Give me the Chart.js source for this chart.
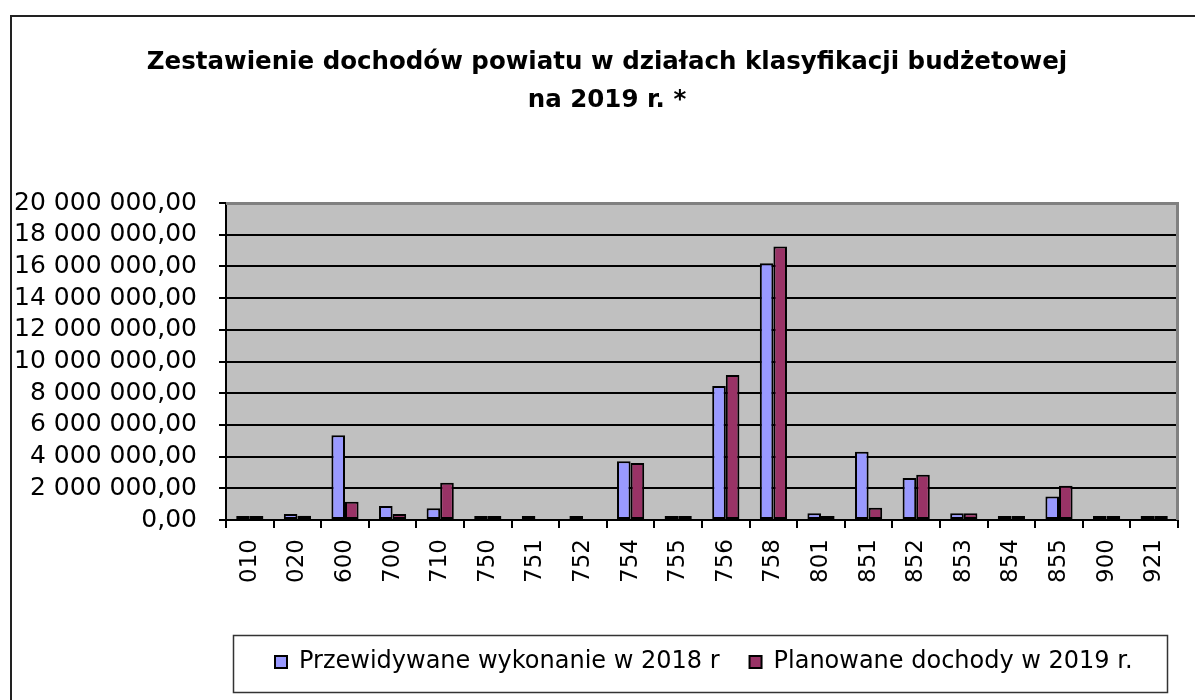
<!DOCTYPE html>
<html>
<head>
<meta charset="utf-8">
<script src="https://cdn.jsdelivr.net/npm/chart.js@4.4.0/dist/chart.umd.min.js"></script>
<style>
    html, body { margin: 0; padding: 0; background: #fff; overflow: hidden; }
    #wrap { position: relative; width: 1195px; height: 700px; overflow: hidden; }
    #frame { position: absolute; left: 10px; top: 15px; width: 1400px; height: 900px; border: 2px solid #222; }
    #chart-canvas { position: absolute; left: 0; top: 0; }
</style>
</head>
<body>
<div id="wrap">
    <div id="frame"></div>
    <canvas id="chart-canvas" width="1195" height="700"></canvas>
</div>
<script>
// Budget divisions (x axis)
const categories = ['010', '020', '600', '700', '710', '750', '751', '752', '754', '755',
                    '756', '758', '801', '851', '852', '853', '854', '855', '900', '921'];

// Series values
const forecast2018 = [30000, 380000, 5350000, 880000, 740000, 30000, 30000, 30000, 3700000, 30000,
                      8450000, 16200000, 420000, 4300000, 2650000, 420000, 30000, 1480000, 30000, 30000];
const planned2019 = [30000, 270000, 1150000, 380000, 2350000, 30000, null, null, 3600000, 30000,
                     9150000, 17250000, 200000, 780000, 2850000, 420000, 30000, 2160000, 30000, 30000];

const seriesLabels = ['Przewidywane wykonanie w 2018 r', 'Planowane dochody w 2019 r.'];
const titleLines = ['Zestawienie dochodów powiatu w działach klasyfikacji budżetowej', 'na 2019 r. *'];

const yMax = 20000000;
const yStep = 2000000;

// "20 000 000,00" style
function formatPl(v) {
    const parts = Number(v).toFixed(2).split('.');
    return parts[0].replace(/\B(?=(\d{3})+(?!\d))/g, ' ') + ',' + parts[1];
}

// Gray plot area, gray frame on top/right, box round the legend
const plotFrame = {
    id: 'plotFrame',
    beforeDraw(chart) {
        const { ctx, chartArea: a } = chart;
        ctx.save();
        ctx.fillStyle = '#C0C0C0';
        ctx.fillRect(a.left, a.top, a.right - a.left, a.bottom - a.top);
        ctx.restore();
    },
    afterLayout(chart) {
        // title sits a bit right of the canvas centre
        chart.titleBlock.left += 36;
        // push legend items to the right, like the original
        const lg = chart.legend;
        lg.left = 245;
        lg.right = 1400;
    },
    afterDraw(chart) {
        const { ctx, chartArea: a } = chart;
        ctx.save();
        ctx.strokeStyle = '#808080';
        ctx.lineWidth = 3;
        ctx.beginPath();
        ctx.moveTo(a.left, a.top + 0.5);
        ctx.lineTo(a.right - 0.5, a.top + 0.5);
        ctx.lineTo(a.right - 0.5, a.bottom);
        ctx.stroke();

        const hb = chart.legend.legendHitBoxes;
        if (hb && hb.length) {
            const last = hb[hb.length - 1];
            const left = hb[0].left - 42;
            const right = last.left + last.width + 34;
            const top = hb[0].top - 15;
            ctx.strokeStyle = '#333';
            ctx.lineWidth = 1.5;
            ctx.strokeRect(Math.round(left) + 0.5, Math.round(top) + 0.5, Math.round(right - left), 57);
        }
        ctx.restore();
    }
};

Chart.defaults.color = '#000';
Chart.defaults.font.family = '"DejaVu Sans", sans-serif';

const ctx = document.getElementById('chart-canvas').getContext('2d');
new Chart(ctx, {
    type: 'bar',
    data: {
        labels: categories,
        datasets: [
            {
                label: seriesLabels[0],
                data: forecast2018,
                backgroundColor: '#9999FF',
                borderColor: '#000',
                borderWidth: 2,
                borderSkipped: false,
            },
            {
                label: seriesLabels[1],
                data: planned2019,
                backgroundColor: '#993366',
                borderColor: '#000',
                borderWidth: 2,
                borderSkipped: false,
            },
        ],
    },
    options: {
        responsive: false,
        animation: false,
        events: [],
        minBarLength: 4,
        categoryPercentage: 0.571,
        barPercentage: 1.0,
        layout: { padding: { left: 0, right: 17, top: 0, bottom: 16 } },
        plugins: {
            title: {
                display: true,
                text: titleLines,
                color: '#000',
                font: { family: '"DejaVu Sans", sans-serif', size: 24.5, weight: 'bold', lineHeight: 38 / 24.5 },
                padding: { top: 44, bottom: 83 },
            },
            legend: {
                position: 'bottom',
                align: 'start',
                labels: {
                    color: '#000',
                    font: { size: 24 },
                    boxWidth: 12,
                    boxHeight: 12,
                    padding: 30,
                },
            },
            tooltip: { enabled: false },
        },
        scales: {
            x: {
                afterFit(scale) { scale.height = 100; },
                grid: {
                    offset: true,
                    drawOnChartArea: false,
                    drawTicks: true,
                    tickLength: 8,
                    color: '#000',
                    lineWidth: 2,
                },
                border: { color: '#000', width: 2 },
                ticks: {
                    autoSkip: false,
                    minRotation: 90,
                    maxRotation: 90,
                    padding: 11,
                    font: { size: 23 },
                    color: '#000',
                },
            },
            y: {
                min: 0,
                max: yMax,
                afterFit(scale) { scale.width = 226; },
                grid: {
                    color: (c) => (c.tick && c.tick.value === yMax ? '#808080' : '#000'),
                    tickColor: '#000',
                    lineWidth: 2,
                    tickLength: 7,
                },
                border: { color: '#000', width: 2 },
                ticks: {
                    autoSkip: false,
                    stepSize: yStep,
                    padding: 22,
                    font: { size: 25 },
                    color: '#000',
                    callback: (v) => formatPl(v),
                },
            },
        },
    },
    plugins: [plotFrame],
});
</script>
</body>
</html>
